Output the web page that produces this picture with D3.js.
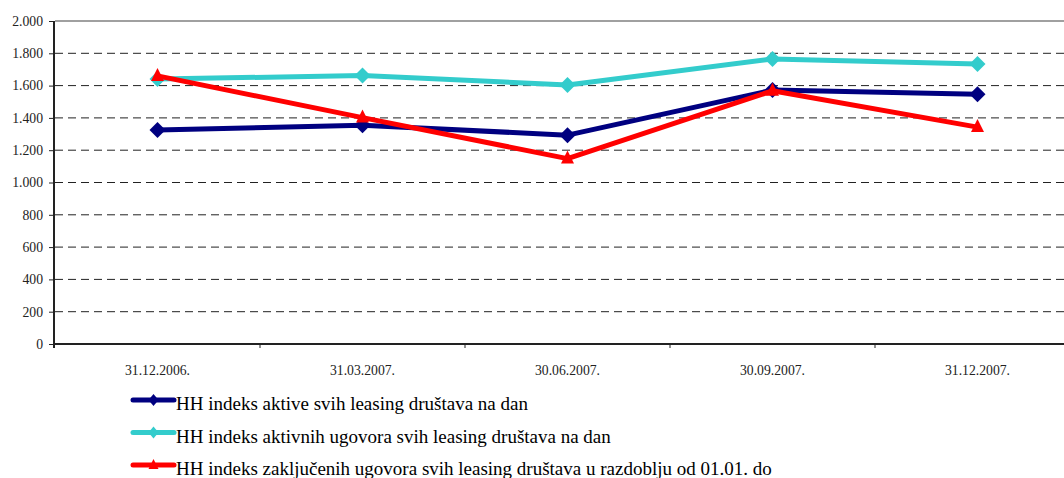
<!DOCTYPE html>
<html>
<head>
<meta charset="utf-8">
<script src="https://cdn.jsdelivr.net/npm/d3@7"></script>
<style>
  body { margin: 0; background: #fff; }
</style>
</head>
<body>
<script>
// dates on the x axis
const dates = ["31.12.2006.", "31.03.2007.", "30.06.2007.", "30.09.2007.", "31.12.2007."];
const yTicks = [0, 200, 400, 600, 800, 1000, 1200, 1400, 1600, 1800, 2000];

const hhAktive = [1325, 1355, 1293, 1572, 1547];
const hhAktivnih = [1641, 1662, 1604, 1765, 1734];
const hhZakljucenih = [1660, 1402, 1148, 1568, 1343];

const seriesNames = [
    "HH indeks aktive svih leasing društava na dan",
    "HH indeks aktivnih ugovora svih leasing društava na dan",
    "HH indeks zaključenih ugovora svih leasing društava u razdoblju od 01.01. do"
];
const seriesColors = ["#000080", "#33CCCC", "#FF0000"];
const seriesMarkers = ["diamond", "diamond", "triangle"];
const seriesValues = [hhAktive, hhAktivnih, hhZakljucenih];

const width = 1064, height = 478;
const serif = "'Liberation Serif', 'Times New Roman', serif";
const fmt = v => v >= 1000 ? Math.floor(v / 1000) + "." + String(v % 1000).padStart(3, "0") : String(v);

const svg = d3.select("body").append("svg")
    .attr("width", width)
    .attr("height", height)
    .style("display", "block")
    .style("font-family", serif);

const x = d3.scaleBand().domain(dates).range([55, 1080]);
const y = d3.scaleLinear().domain([0, 2000]).range([344, 21]);

// grid lines
svg.append("g")
    .selectAll("line")
    .data(yTicks.filter(t => t > 0 && t < 2000))
    .enter().append("line")
    .attr("x1", 55).attr("x2", width)
    .attr("y1", d => y(d)).attr("y2", d => y(d))
    .attr("stroke", "#222")
    .attr("stroke-width", 1)
    .attr("stroke-dasharray", "8,5");

svg.append("line")
    .attr("x1", 55).attr("x2", width)
    .attr("y1", y(2000)).attr("y2", y(2000))
    .attr("stroke", "#808080").attr("stroke-width", 1.5);

// y axis
let yAxis = svg.append("g")
    .attr("transform", "translate(54,0)")
    .call(d3.axisLeft(y).tickValues(yTicks).tickFormat(fmt).tickSize(5).tickPadding(6));
yAxis.attr("font-family", null);
yAxis.select(".domain").attr("stroke", "#222").attr("stroke-width", 2).attr("d", `M0,${y(2000)}V${y(0) + 4}`);
yAxis.selectAll(".tick line").attr("stroke", "#222");
yAxis.selectAll("text").style("font-size", "13.7px").style("font-family", serif).attr("fill", "#222");

// x axis
let xAxis = svg.append("g")
    .attr("transform", `translate(0,${y(0)})`)
    .call(d3.axisBottom(x).tickSize(0).tickPadding(21));
xAxis.attr("font-family", null);
xAxis.select(".domain").attr("stroke", "#222").attr("stroke-width", 2).attr("d", `M55,0H${width}`);
xAxis.selectAll("text").style("font-size", "13.7px").style("font-family", serif).attr("fill", "#222");
xAxis.selectAll(".sep")
    .data(dates.slice(1))
    .enter().append("line")
    .attr("x1", d => x(d)).attr("x2", d => x(d))
    .attr("y1", 0).attr("y2", 4)
    .attr("stroke", "#222");

const cx = d => x(d) + x.bandwidth() / 2;
const line = d3.line().x((d, i) => cx(dates[i])).y(d => y(d));

const markerPath = type => type === "diamond"
    ? "M0,-8L8,0L0,8L-8,0Z"
    : "M0,-8L6.5,5L-6.5,5Z";

seriesValues.forEach((vals, s) => {
    svg.append("path")
        .datum(vals)
        .attr("fill", "none")
        .attr("stroke", seriesColors[s])
        .attr("stroke-width", 5)
        .attr("stroke-linejoin", "round")
        .attr("d", line);

    svg.append("g")
        .selectAll("path")
        .data(vals)
        .enter().append("path")
        .attr("transform", (d, i) => `translate(${cx(dates[i])},${y(d)})`)
        .attr("d", markerPath(seriesMarkers[s]))
        .attr("fill", seriesColors[s]);
});

// legend
const legend = svg.append("g")
    .selectAll("g")
    .data(seriesNames)
    .enter().append("g")
    .attr("transform", (d, i) => `translate(133,${400 + i * 32.5})`);

legend.append("line")
    .attr("x1", 0).attr("x2", 41)
    .attr("stroke", (d, i) => seriesColors[i])
    .attr("stroke-width", 5)
    .attr("stroke-linecap", "round");

legend.append("path")
    .attr("transform", "translate(20.5,0)")
    .attr("d", (d, i) => seriesMarkers[i] === "diamond" ? "M0,-6L5,0L0,6L-5,0Z" : "M0,-6L5,4L-5,4Z")
    .attr("fill", (d, i) => seriesColors[i]);

legend.append("text")
    .attr("x", 43)
    .attr("y", 10)
    .style("font-size", "19px")
    .style("font-family", serif)
    .attr("fill", "#000")
    .text(d => d);
</script>
</body>
</html>
